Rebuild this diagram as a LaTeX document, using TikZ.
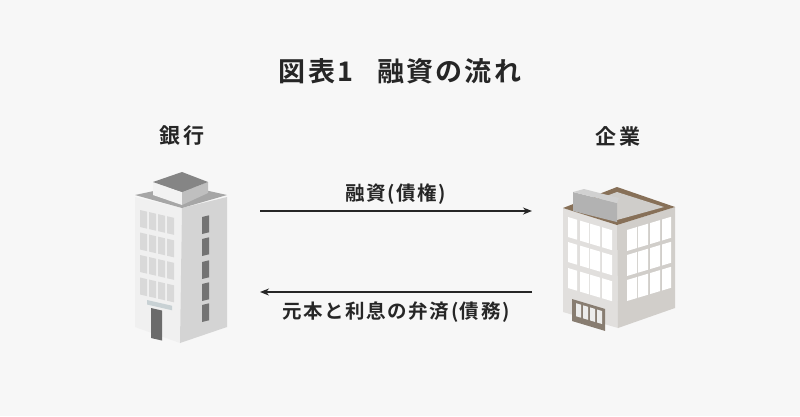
\documentclass[tikz,border=0pt]{standalone}
\usepackage{fontspec}
\usetikzlibrary{arrows.meta}
\setmainfont{Noto Sans CJK JP}[BoldFont={Noto Sans CJK JP Bold}]
\newfontfamily\jpb{Noto Sans CJK JP Bold}[LetterSpace=8]
\newfontfamily\jph{Noto Sans CJK JP Bold}[LetterSpace=12]
\begin{document}
\begin{tikzpicture}[x=1pt,y=-1pt,
  lbl/.style={font=\jpb\fontsize{19.5}{19.5}\selectfont,text=black!85},
  head/.style={font=\jph\fontsize{21}{21}\selectfont,text=black!85},
  flow/.style={draw=black!85,line width=1.4pt,-{Stealth[length=9pt,width=7pt]}}]
\path[fill=black!3] (0,0) rectangle (800,416);
\useasboundingbox (0,0) rectangle (800,416);
\def\pg#1#2#3#4#5#6{\fill[#6] (#1,#2) -- ++(#3,{#3*#5}) -- ++(0,#4) -- ++(-#3,{-#3*#5}) -- cycle;}
\node[font=\jpb\fontsize{27}{27}\selectfont,text=black!85] (title) at (400,71) {図表1\hspace{0.9em}融資の流れ};
\node[head] (bank) at (182,136) {銀行};
\node[head] (corp) at (618,136) {企業};
% bank building
\fill[black!6] (135,197) -- (182,208) -- (180,343) -- (135,327) -- cycle;
\fill[black!17] (182,208) -- (227,197) -- (227,327) -- (180,343) -- cycle;
\fill[black!35] (135,195) -- (182,185) -- (227,195) -- (182,208) -- cycle;
\fill[black!5] (153,182) -- (182,192) -- (182,205) -- (153,195) -- cycle;
\fill[black!25] (182,192) -- (208,182) -- (208,193) -- (182,205) -- cycle;
\fill[black!48] (153,182) -- (182,172) -- (208,182) -- (182,192) -- cycle;
\foreach \cx in {140,149,158,167}{\foreach \ry in {0,22.5,45,67.5}{
  \pg{\cx}{{210+\ry+(\cx-140)*0.23}}{7}{17}{0.23}{black!15}}}
\foreach \ry in {0,22,45,67,88}{\pg{202}{{217+\ry}}{7}{17}{-0.24}{black!55}}
\pg{147}{300}{25}{4.5}{0.23}{cyan!25!black!25}
\pg{151}{308}{11}{30}{0.23}{black!58}
% company building
\fill[brown!20!black!14] (563,208) -- (617,225) -- (618,328) -- (563,312) -- cycle;
\fill[brown!25!black!22] (617,225) -- (675,207) -- (675,308) -- (618,328) -- cycle;
\fill[brown!50!black!75] (563,208) -- (617,187) -- (675,207) -- (617,225) -- cycle;
\fill[brown!20!black!22] (574,208) -- (617,192) -- (664,207) -- (617,220) -- cycle;
\fill[black!30] (573,192) -- (617,203) -- (617,222) -- (573,211) -- cycle;
\fill[black!18] (573,192) -- (584,189) -- (619,198) -- (617,203) -- cycle;
\foreach \cx/\w in {568/9,580/9,590/10,602/10}{\foreach \ry in {0,25,51}{
  \pg{\cx}{{217+\ry+(\cx-568)*0.3}}{\w}{20}{0.3}{white}}}
\foreach \cx/\w in {627/10,638/10,650/10,662/9}{\foreach \ry in {0,25,50}{
  \pg{\cx}{{230+\ry-(\cx-627)*0.3}}{\w}{21}{-0.3}{white}}}
\pg{572}{299}{33}{22}{0.3}{brown!30!black!60}
\foreach \cx in {576,583,590,597}{\pg{\cx}{{302+(\cx-572)*0.3}}{5}{13}{0.3}{brown!10!black!8}}
% arrows
\coordinate (a1) at (260,211); \coordinate (b1) at (532,211);
\coordinate (a2) at (532,292); \coordinate (b2) at (260,292);
\draw[flow] (a1) -- (b1) node[midway,above=3pt,lbl] (l1) {融資(債権)};
\draw[flow] (a2) -- (b2) node[midway,below=6pt,lbl] (l2) {元本と利息の弁済(債務)};
\end{tikzpicture}
\end{document}
